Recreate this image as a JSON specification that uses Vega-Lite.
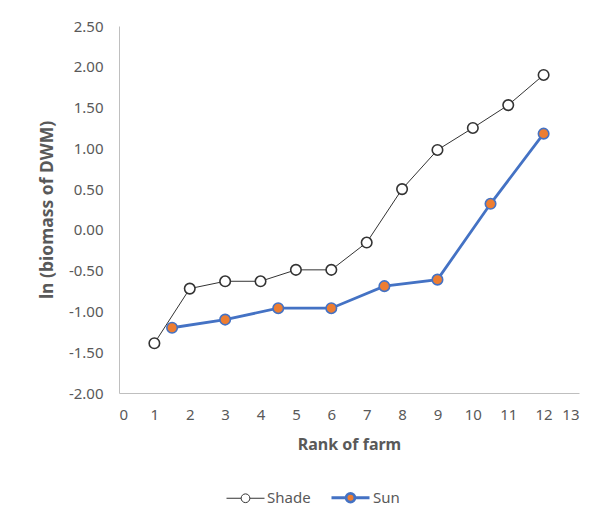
{
  "$schema": "https://vega.github.io/schema/vega-lite/v6.json",
  "width": 460,
  "height": 367,
  "autosize": {"type": "none"},
  "padding": {"left": 119, "top": 26, "right": 21, "bottom": 134},
  "background": "white",
  "config": {
    "view": {"stroke": null},
    "font": "Noto Sans",
    "axis": {
      "grid": false,
      "ticks": false,
      "domainColor": "#BFBFBF",
      "domainWidth": 1,
      "labelColor": "#595959",
      "labelFontSize": 15,
      "labelFont": "Noto Sans",
      "titleColor": "#595959",
      "titleFont": "Noto Sans",
      "titleFontSize": 16,
      "titleFontWeight": "bold"
    }
  },
  "data": {
    "values": [
      {"rank": 1, "value": -1.39, "series": "Shade"},
      {"rank": 2, "value": -0.72, "series": "Shade"},
      {"rank": 3, "value": -0.63, "series": "Shade"},
      {"rank": 4, "value": -0.63, "series": "Shade"},
      {"rank": 5, "value": -0.49, "series": "Shade"},
      {"rank": 6, "value": -0.49, "series": "Shade"},
      {"rank": 7, "value": -0.155, "series": "Shade"},
      {"rank": 8, "value": 0.5, "series": "Shade"},
      {"rank": 9, "value": 0.98, "series": "Shade"},
      {"rank": 10, "value": 1.25, "series": "Shade"},
      {"rank": 11, "value": 1.53, "series": "Shade"},
      {"rank": 12, "value": 1.9, "series": "Shade"},
      {"rank": 1.5, "value": -1.2, "series": "Sun"},
      {"rank": 3, "value": -1.1, "series": "Sun"},
      {"rank": 4.5, "value": -0.96, "series": "Sun"},
      {"rank": 6, "value": -0.96, "series": "Sun"},
      {"rank": 7.5, "value": -0.69, "series": "Sun"},
      {"rank": 9, "value": -0.61, "series": "Sun"},
      {"rank": 10.5, "value": 0.32, "series": "Sun"},
      {"rank": 12, "value": 1.18, "series": "Sun"}
    ]
  },
  "encoding": {
    "x": {
      "field": "rank",
      "type": "quantitative",
      "scale": {"domain": [0, 13], "nice": false, "zero": false},
      "axis": {"values": [0,1,2,3,4,5,6,7,8,9,10,11,12,13], "title": "Rank of farm", "labelPadding": 14, "titlePadding": 14, "format": "d"}
    },
    "y": {
      "field": "value",
      "type": "quantitative",
      "scale": {"domain": [-2, 2.5], "nice": false},
      "axis": {"values": [-2,-1.5,-1,-0.5,0,0.5,1,1.5,2,2.5], "format": ".2f", "labelExpr": "replace(datum.label, '\u2212', '-')", "title": "ln (biomass of DWM)", "titleFontSize": 17.5, "labelPadding": 16, "titlePadding": 12, "labelBound": false}
    }
  },
  "layer": [
    {
      "mark": {"type": "line"},
      "encoding": {
        "stroke": {
          "field": "series",
          "type": "nominal",
          "scale": {"domain": ["Shade", "Sun"], "range": ["#333333", "#4472C4"]},
          "legend": {
            "title": null,
            "orient": "none",
            "direction": "horizontal",
            "legendX": 107,
            "legendY": 451,
            "symbolType": "M-1,0H-0.23M0.23,0H1M-0.23,0A0.23,0.23 0 1,0 0.23,0A0.23,0.23 0 1,0 -0.23,0Z",
            "symbolSize": 1444,
            "symbolStrokeWidth": 2,
            "labelColor": "#595959",
            "labelFontSize": 15,
            "labelFont": "Noto Sans",
            "labelOffset": 2,
            "columnPadding": 14
          }
        },
        "strokeWidth": {
          "field": "series",
          "type": "nominal",
          "scale": {"domain": ["Shade", "Sun"], "range": [1, 2.8]},
          "legend": null
        }
      }
    },
    {
      "mark": {"type": "point", "filled": false, "shape": "circle", "size": 110, "opacity": 1},
      "encoding": {
        "stroke": {"field": "series", "type": "nominal"},
        "fill": {
          "field": "series",
          "type": "nominal",
          "scale": {"domain": ["Shade", "Sun"], "range": ["white", "#ED7D31"]},
          "legend": {
            "title": null,
            "orient": "none",
            "direction": "horizontal",
            "legendX": 107,
            "legendY": 451,
            "symbolType": "M-1,0H-0.23M0.23,0H1M-0.23,0A0.23,0.23 0 1,0 0.23,0A0.23,0.23 0 1,0 -0.23,0Z",
            "symbolSize": 1444,
            "symbolStrokeWidth": 2,
            "labelColor": "#595959",
            "labelFontSize": 15,
            "labelFont": "Noto Sans",
            "labelOffset": 2,
            "columnPadding": 14
          }
        },
        "strokeWidth": {"value": 1.6}
      }
    }
  ]
}
